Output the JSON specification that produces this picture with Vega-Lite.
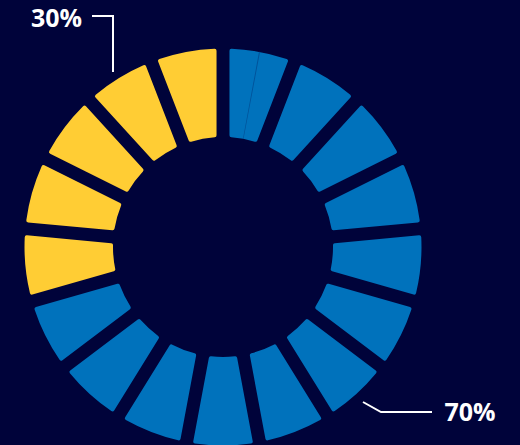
{
  "$schema": "https://vega.github.io/schema/vega-lite/v6.json",
  "width": 444,
  "height": 396,
  "autosize": {"type": "none"},
  "padding": {"left": 1, "top": 49, "right": 75, "bottom": 0},
  "background": "#00033a",
  "config": {"view": {"stroke": null}},
  "resolve": {"scale": {"theta": "independent", "color": "independent"}},
  "layer": [
    {
      "data": {"values": [
        {"seg": 1, "group": "blue", "v": 1}, {"seg": 2, "group": "blue", "v": 1},
        {"seg": 3, "group": "blue", "v": 1}, {"seg": 4, "group": "blue", "v": 1},
        {"seg": 5, "group": "blue", "v": 1}, {"seg": 6, "group": "blue", "v": 1},
        {"seg": 7, "group": "blue", "v": 1}, {"seg": 8, "group": "blue", "v": 1},
        {"seg": 9, "group": "blue", "v": 1}, {"seg": 10, "group": "blue", "v": 1},
        {"seg": 11, "group": "blue", "v": 1}, {"seg": 12, "group": "blue", "v": 1},
        {"seg": 13, "group": "yellow", "v": 1}, {"seg": 14, "group": "yellow", "v": 1},
        {"seg": 15, "group": "yellow", "v": 1}, {"seg": 16, "group": "yellow", "v": 1},
        {"seg": 17, "group": "yellow", "v": 1}
      ]},
      "mark": {"type": "arc", "innerRadius": 110, "outerRadius": 198.5, "padAngle": 0.057, "cornerRadius": 2},
      "encoding": {
        "theta": {"field": "v", "type": "quantitative", "stack": true},
        "order": {"field": "seg", "type": "quantitative"},
        "color": {"field": "group", "type": "nominal", "scale": {"domain": ["blue", "yellow"], "range": ["#0072bc", "#ffcd34"]}, "legend": null}
      }
    },
    {
      "data": {"values": [
        {"k": 1, "p": "a", "v": 10.45},
        {"k": 2, "p": "s", "v": 0.3},
        {"k": 3, "p": "b", "v": 349.25}
      ]},
      "mark": {"type": "arc", "innerRadius": 110, "outerRadius": 198.5},
      "encoding": {
        "theta": {"field": "v", "type": "quantitative", "stack": true},
        "order": {"field": "k", "type": "quantitative"},
        "color": {"field": "p", "type": "nominal", "scale": {"domain": ["a", "s", "b"], "range": ["transparent", "#00539a", "transparent"]}, "legend": null}
      }
    },
    {
      "data": {"values": [
        {"g": "l30", "i": 1, "x": -131, "y": 231},
        {"g": "l30", "i": 2, "x": -110, "y": 231},
        {"g": "l30", "i": 3, "x": -110, "y": 175},
        {"g": "l70", "i": 1, "x": 140, "y": -155},
        {"g": "l70", "i": 2, "x": 158, "y": -165},
        {"g": "l70", "i": 3, "x": 209, "y": -165}
      ]},
      "mark": {"type": "line", "color": "white", "strokeWidth": 2},
      "encoding": {
        "x": {"field": "x", "type": "quantitative", "scale": {"domain": [-222, 222]}, "axis": null},
        "y": {"field": "y", "type": "quantitative", "scale": {"domain": [-198, 198]}, "axis": null},
        "detail": {"field": "g"},
        "order": {"field": "i", "type": "quantitative"}
      }
    },
    {
      "data": {"values": [
        {"label": "30%", "x": -166.5, "y": 228.5},
        {"label": "70%", "x": 247, "y": -166}
      ]},
      "mark": {"type": "text", "color": "white", "font": "Open Sans", "fontWeight": "bold", "fontSize": 25, "align": "center", "baseline": "middle"},
      "encoding": {
        "x": {"field": "x", "type": "quantitative", "scale": {"domain": [-222, 222]}, "axis": null},
        "y": {"field": "y", "type": "quantitative", "scale": {"domain": [-198, 198]}, "axis": null},
        "text": {"field": "label"}
      }
    }
  ]
}
